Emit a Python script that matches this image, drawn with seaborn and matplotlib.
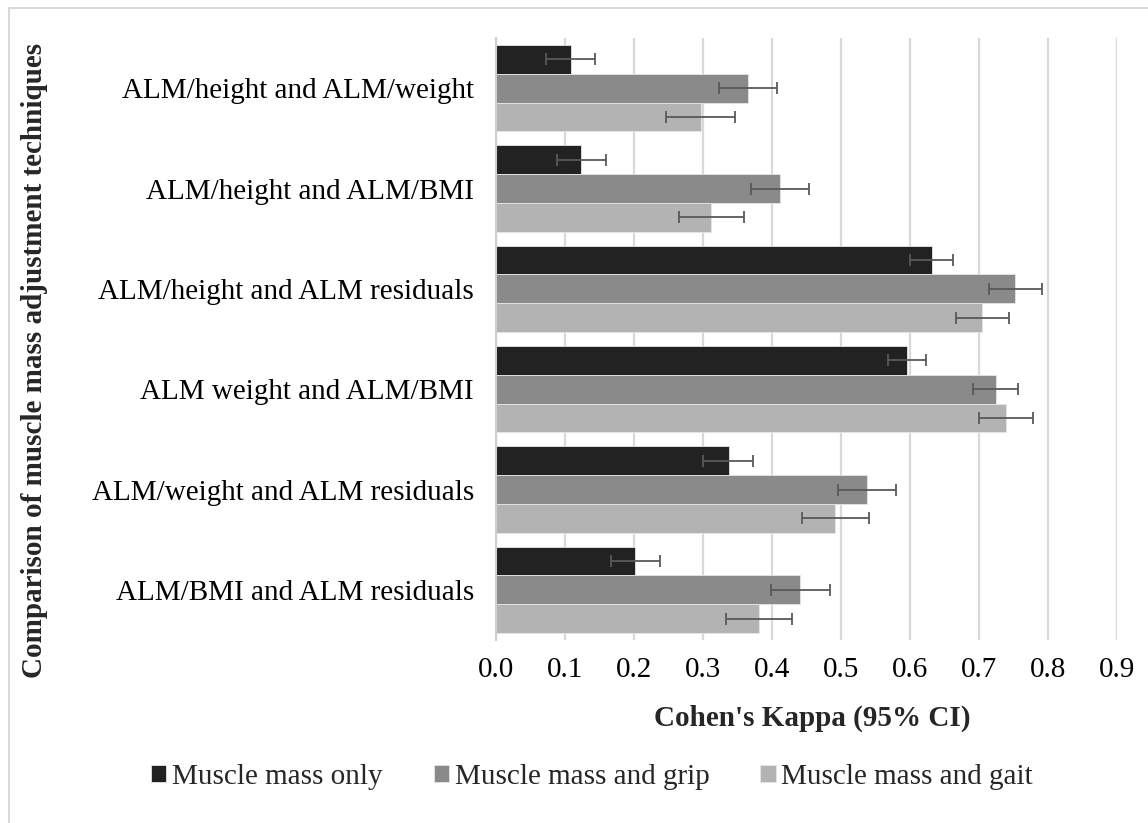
import numpy as np
import pandas as pd
import matplotlib
matplotlib.use("Agg")
import matplotlib.pyplot as plt
from matplotlib.patches import Rectangle
import seaborn as sns

categories = [
    "ALM/height and ALM/weight",
    "ALM/height and ALM/BMI",
    "ALM/height and ALM residuals",
    "ALM weight and ALM/BMI",
    "ALM/weight and ALM residuals",
    "ALM/BMI and ALM residuals",
]
series = ["Muscle mass only", "Muscle mass and grip", "Muscle mass and gait"]

kappa_only = [0.108, 0.123, 0.632, 0.595, 0.337, 0.201]
ci_low_only = [0.073, 0.088, 0.600, 0.568, 0.300, 0.166]
ci_high_only = [0.144, 0.159, 0.663, 0.623, 0.373, 0.238]

kappa_grip = [0.365, 0.411, 0.752, 0.724, 0.537, 0.441]
ci_low_grip = [0.323, 0.369, 0.714, 0.692, 0.495, 0.399]
ci_high_grip = [0.407, 0.454, 0.791, 0.756, 0.580, 0.484]

kappa_gait = [0.297, 0.312, 0.705, 0.739, 0.492, 0.381]
ci_low_gait = [0.247, 0.265, 0.667, 0.700, 0.443, 0.333]
ci_high_gait = [0.346, 0.360, 0.744, 0.778, 0.541, 0.429]

x_ticks = [0.0, 0.1, 0.2, 0.3, 0.4, 0.5, 0.6, 0.7, 0.8, 0.9]

values = [kappa_only, kappa_grip, kappa_gait]
lows = [ci_low_only, ci_low_grip, ci_low_gait]
highs = [ci_high_only, ci_high_grip, ci_high_gait]
colors = ["#222222", "#8a8a8a", "#b3b3b3"]

df = pd.DataFrame({
    "comparison": np.tile(categories, len(series)),
    "group": np.repeat(series, len(categories)),
    "kappa": np.concatenate(values),
})

sns.set_theme(style="white")
plt.rcParams["font.family"] = ["Liberation Serif", "DejaVu Serif"]
FS = 21

fig = plt.figure(figsize=(11.48, 8.23), dpi=100)
ax = fig.add_axes([496 / 1148, 1 - 640 / 823, (1117 - 496) / 1148, (640 - 38) / 823])

sns.barplot(data=df, y="comparison", x="kappa", hue="group", order=categories,
            hue_order=series, palette=colors, orient="h", width=0.86,
            errorbar=None, saturation=1, ax=ax, legend=True,
            edgecolor="#e6e6e6", linewidth=0.6)

# confidence intervals drawn at the centre of each bar
for cont, lo, hi in zip(ax.containers, lows, highs):
    for bar, l, h in zip(cont.patches, lo, hi):
        yc = bar.get_y() + bar.get_height() / 2
        ax.errorbar([bar.get_width()], [yc],
                    xerr=[[bar.get_width() - l], [h - bar.get_width()]],
                    fmt="none", ecolor="#595959", elinewidth=1.3,
                    capsize=4.3, capthick=1.3, zorder=4)

ax.set_xlim(0, 0.9)
ax.set_ylim(len(categories) - 0.5, -0.5)
ax.set_xticks(x_ticks)
ax.set_xticklabels([f"{t:.1f}" for t in x_ticks])
ax.xaxis.grid(True, color="#d9d9d9", linewidth=1.6)
ax.set_axisbelow(True)
ax.tick_params(axis="both", length=0, labelsize=FS, colors="black")
ax.tick_params(axis="y", pad=16)
ax.tick_params(axis="x", pad=12)
for side in ["top", "right", "bottom"]:
    ax.spines[side].set_visible(False)
ax.spines["left"].set_color("#cfcfcf")
ax.spines["left"].set_linewidth(1.5)
ax.set_xlabel("")
ax.set_ylabel("")

fig.text(812 / 1148, 1 - 718 / 823, "Cohen's Kappa (95% CI)",
         ha="center", va="center", fontsize=FS, fontweight="bold")
fig.text(35 / 1148, 1 - 360 / 823, "Comparison of muscle mass adjustment techniques",
         ha="center", va="center", rotation=90, fontsize=FS, fontweight="bold")

handles, labels = ax.get_legend_handles_labels()
ax.get_legend().remove()
fig.legend(handles, labels, loc="center", bbox_to_anchor=(592 / 1148, 1 - 777 / 823),
           ncol=3, frameon=False, fontsize=FS, handlelength=0.52, handleheight=0.52,
           handletextpad=0.2, columnspacing=1.75)

# chart area outline
fig.patches.append(Rectangle((9 / 1148, -0.05), 1.2, 1 - 8 / 823 + 0.05,
                             transform=fig.transFigure, fill=False,
                             edgecolor="#d9d9d9", linewidth=1.5))

fig.savefig("out.png", dpi=100)
